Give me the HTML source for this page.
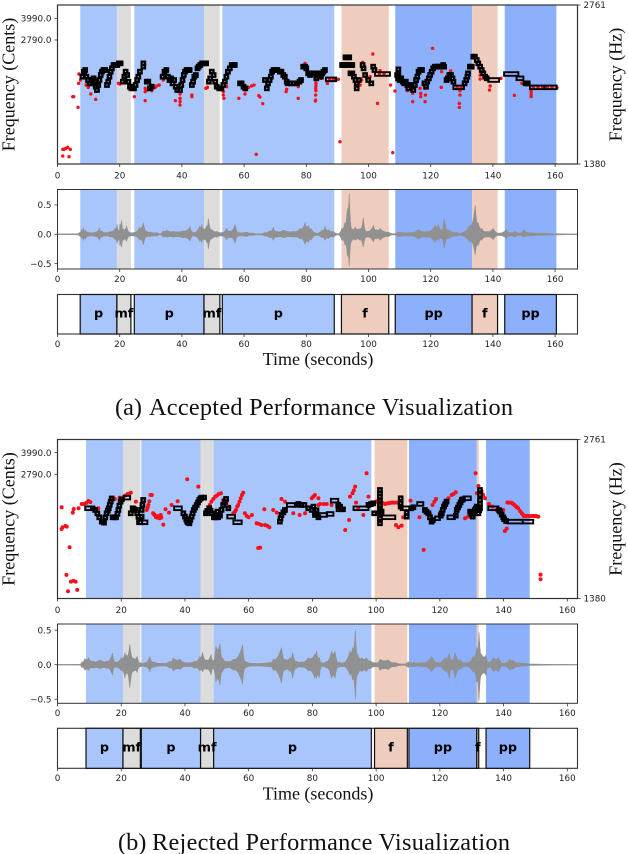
<!DOCTYPE html>
<html lang="en">
<head>
<meta charset="utf-8">
<title>Performance Visualization</title>
<style>
html,body{margin:0;padding:0;background:#fff;width:628px;height:854px;overflow:hidden}
svg{display:block}
.tick{font-family:"DejaVu Sans",sans-serif;font-size:8.8px;fill:#222}
.serif{font-family:"Liberation Serif",serif;fill:#111}
.dyn{font-family:"DejaVu Sans",sans-serif;font-weight:bold;font-size:12.8px;fill:#000;text-anchor:middle}
</style>
</head>
<body>
<svg id="figure" xmlns="http://www.w3.org/2000/svg" width="628" height="854" viewBox="0 0 628 854">
<rect width="628" height="854" fill="#fff"/>
<text class="serif" x="115" y="415" font-size="24.3">(a)</text>
<text class="serif" x="149" y="415" font-size="24.3" textLength="364" lengthAdjust="spacing">Accepted Performance Visualization</text>
<text class="serif" x="118" y="850" font-size="24.3">(b)</text>
<text class="serif" x="152" y="850" font-size="24.3" textLength="358" lengthAdjust="spacing">Rejected Performance Visualization</text>
</svg>
<script>
var xTicks = [0,20,40,60,80,100,120,140,160];
var centTicks = [3990,2790];
var centTickLabels = ['3990.0','2790.0'];
var hzTickLabels = ['2761','1380'];
var waveTicks = [0.5,0,-0.5];
var waveTickLabels = ['0.5','0.0','\u22120.5'];

var segmentsA = [[7.3,19.1,'p'],[19.1,23.6,'mf'],[24.7,47.1,'p'],[47.1,52.2,'mf'],[53,89,'p'],[91.3,106.5,'f'],[108.6,133.3,'pp'],[133.3,141.5,'f'],[143.8,160.4,'pp']];
var segmentsB = [[8.95,20.55,'p'],[20.55,26,'mf'],[26.3,44.9,'p'],[44.9,49,'mf'],[49,98.5,'p'],[99.5,109.8,'f'],[110.3,131.6,'pp'],[131.6,132.2,'f'],[134.5,148.2,'pp']];

var shortNotesA = [[8,758],[8.5,1035],[8.9,1127],[9.3,758],[9.8,573],[10.3,389],[10.8,573],[11.2,389],[11.6,666],[12,481],[12.3,204],[12.7,19],[13.1,296],[13.5,573],[13.9,850],[14.3,1035],[14.8,1127],[15.3,1127],[15.9,296],[16.3,481],[16.7,758],[17.1,1035],[17.5,1220],[18,1404],[18.5,1404],[19.2,1404],[19.7,1497],[20.3,1497],[21,481],[21.5,758],[21.9,1035],[22.4,850],[22.8,481],[23.3,204],[24,111],[24.6,111],[25.1,296],[25.6,573],[26,758],[26.5,1035],[27.6,1497],[27.6,1312],[28.7,481],[29.2,481],[29.7,111],[30.3,204],[33.8,758],[34.4,1035],[35,1127],[35.5,758],[36,573],[36.5,666],[37,389],[37.5,573],[38,204],[38.5,19],[39.4,19],[39.8,296],[40.2,573],[40.6,850],[41,1035],[41.5,1127],[42,1127],[42.5,1127],[43.2,296],[43.6,481],[44,758],[44.5,850],[45,1220],[45.4,1312],[45.9,1404],[46.5,1497],[47.2,1497],[47.8,1497],[48.7,481],[49.1,666],[49.6,1035],[50.2,850],[50.7,481],[51.2,204],[52,111],[52.7,111],[53.3,296],[53.8,481],[54.3,758],[54.8,1035],[55.4,1220],[56,1404],[56.6,1404],[57,1404],[58.7,389],[59.2,389],[59.8,204],[60.4,111],[66.7,573],[67.3,111],[67.7,389],[68.2,573],[68.6,758],[69,1035],[69.5,1127],[70.2,1127],[70.7,1127],[71.5,1035],[72,1035],[72.6,850],[73.1,758],[73.7,481],[74,389],[75,389],[76,389],[77,389],[77.8,481],[78.3,573],[79,1312],[79.6,1312],[80,1220],[80.6,943],[81.2,850],[81.8,943],[82.3,943],[83.2,666],[83.7,943],[84.2,850],[84.7,758],[85.1,943],[85.5,1035],[86,1127],[91.5,1404],[92.2,1404],[92.6,1830],[93,1404],[93.2,1830],[93.8,1830],[93.9,1404],[94.7,1404],[94.2,943],[94.8,943],[95.3,758],[95.8,573],[96.2,389],[96.2,111],[96.9,573],[98.1,1404],[98.4,1220],[98.9,850],[99.9,573],[100.9,389],[101.5,1312],[101.9,1127],[109.6,1164],[109.6,850],[109.2,850],[109.5,666],[110,573],[110.5,666],[111,481],[111.5,389],[112,481],[112.5,296],[112.8,111],[113.3,296],[113.7,296],[114.4,19],[114.9,296],[115.3,573],[115.7,758],[116.1,1035],[116.6,1127],[117.2,1127],[118,389],[118.5,204],[118.9,481],[119.4,666],[119.8,850],[120.3,1035],[120.8,1220],[121.3,1312],[122,1312],[122.6,1312],[123.3,1312],[124,1404],[124.3,1312],[125.1,573],[125.5,666],[126,850],[126.5,850],[127,666],[127.3,481],[130.9,389],[131.4,573],[131.8,758],[132,943],[132.6,1312],[133.2,1312],[133.7,1866],[134.2,1866],[134.8,1681],[135.3,1497],[135.9,1312],[136.4,1127],[136.9,943],[137.5,758],[138,666],[150.5,389],[151.2,389]];
var longNotesA = [[86.3,89.6,610],[91.1,95.4,1404],[92.5,94.3,1830],[102.1,106.9,906],[127.3,130.7,167],[138.5,142,573],[143.6,148.2,906],[147.6,149.8,666],[151.9,156.6,167],[156.6,160.5,167]];
var redA = [[1.7,-3268],[2.1,-3268],[2.7,-3213],[3.3,-3158],[4.1,-3268],[1.7,-3638],[3.7,-3675],[4.9,-350],[5.2,-350],[6.6,-941],[6.8,389],[6.9,906],[7.4,573],[10.7,-202],[12.3,-498],[9.2,296],[9.9,167],[19.6,389],[20.1,352],[22.2,481],[23.1,56],[24.7,-350],[28.2,111],[28.2,-73],[28.2,-572],[28.7,19],[30.3,-18],[31.4,167],[31.9,241],[32.7,296],[34,573],[37.9,-572],[39.4,-202],[39.4,-443],[39.4,-627],[39.4,-812],[43.2,-258],[43.2,-350],[47.7,111],[48.2,167],[53.3,-73],[53.3,-258],[53.5,-443],[54.4,204],[58.3,-443],[60.3,-202],[60.5,19],[61.4,167],[62.4,241],[63.2,296],[63.9,-3545],[64.7,-295],[65.1,-369],[66,-738],[73.5,-73],[73.7,56],[77.4,-443],[77.4,204],[79.6,1497],[83,111],[83,-258],[83,-535],[83,721],[83.1,389],[83.1,573],[83.1,241],[83.1,-18],[82.9,-590],[84.7,666],[86.8,389],[90.3,610],[90.8,-2844],[98.1,1552],[97.8,573],[97.3,296],[96.7,389],[101.4,2014],[98.6,1312],[100.5,758],[99.4,666],[102.9,-720],[103.7,1090],[107.1,296],[107.8,-3453],[108.5,-36],[112.5,-18],[114.2,-627],[114.2,-166],[116.6,111],[116.8,-166],[116.8,-350],[118.2,111],[118.3,-258],[118.2,-627],[120.6,2328],[123.4,167],[123.5,1035],[126.4,1072],[129.4,-18],[129.4,-258],[129.2,-720],[129.2,-941],[135.9,850],[135.9,628],[139.1,241],[138.9,19],[142.6,666],[146.9,-276],[149.3,389],[152.3,-73],[152.3,-221],[152.3,-350],[160.6,148],[153,167],[154.5,167],[156,167],[157.5,167],[159,167],[103.5,906],[105,906],[128.5,167],[129.8,167],[92.5,1404],[94.5,1404],[87.5,610],[88.8,610]];
var waveA = [[0,.006,.006],[6.5,.008,.008],[7,.03,.03],[7.8,.08,.07],[8.3,.11,.1],[9,.07,.08],[9.8,.04,.04],[10.5,.03,.03],[12,.04,.04],[13.5,.1,.1],[14.2,.06,.05],[15.5,.03,.03],[17,.05,.05],[18.5,.1,.09],[19.2,.17,.16],[19.7,.06,.1],[20.1,.18,.2],[20.6,.24,.22],[21.2,.09,.1],[22.2,.14,.12],[23.3,.03,.03],[24.4,.03,.03],[26.5,.12,.1],[27.6,.2,.18],[28.7,.05,.05],[29.7,.04,.04],[32,.03,.03],[33,.01,.01],[34,.06,.05],[35.1,.07,.05],[37.2,.05,.05],[40.5,.06,.06],[42.6,.13,.11],[43.7,.03,.03],[45.8,.14,.12],[46.4,.17,.15],[46.9,.1,.1],[48,.15,.14],[48.5,.27,.25],[49.6,.08,.08],[51.2,.05,.05],[52.8,.03,.03],[54.4,.1,.09],[55.5,.06,.06],[57.1,.17,.15],[58.2,.03,.03],[60.8,.04,.04],[62.5,.02,.02],[65,.01,.01],[66.7,.03,.03],[68.3,.06,.06],[69.4,.12,.1],[70.5,.05,.05],[72.6,.07,.06],[75.8,.05,.05],[78,.1,.08],[79.6,.2,.17],[80.7,.15,.14],[81.5,.1,.1],[83.3,.02,.02],[85,.07,.06],[86,.13,.1],[87.1,.08,.07],[88.7,.05,.05],[90.3,.01,.01],[91.4,.1,.1],[92.4,.2,.18],[93.2,.45,.38],[93.8,.7,.55],[94.6,.1,.12],[95.7,.12,.1],[97.3,.1,.1],[98.3,.28,.22],[99.4,.05,.05],[101.6,.15,.13],[102.6,.08,.08],[103.7,.1,.1],[106.4,.04,.04],[108,.01,.01],[109.6,.04,.04],[113.4,.03,.03],[116,.08,.08],[118.7,.05,.05],[121.4,.15,.14],[122.5,.17,.1],[123.5,.08,.08],[124.3,.27,.24],[125.6,.08,.08],[128.4,.03,.03],[129.4,.02,.02],[132.6,.15,.13],[134.3,.5,.35],[135.3,.2,.2],[136.4,.1,.1],[138,.05,.05],[140.1,.1,.09],[141.8,.02,.02],[144.4,.08,.07],[145.5,.03,.03],[147.1,.05,.05],[148.7,.02,.02],[149.8,.08,.05],[152,.03,.03],[156,.02,.02],[160.5,.01,.01],[167,.005,.005]];

var shortNotesB = [[11.8,815],[12.5,630],[13.1,408],[13.9,168],[14.6,113],[15,400],[15.4,630],[15.8,780],[16.1,907],[16.4,1100],[16.7,1276],[17,1450],[17.3,408],[17.9,408],[18.4,408],[18.8,600],[19.1,815],[19.4,1050],[19.8,1276],[20.2,1400],[23,630],[23.6,907],[24,860],[24.6,815],[25,630],[25.4,445],[26,131],[26.4,445],[26.4,815],[26.65,1092],[26.9,1368],[39.5,630],[40,445],[40.4,300],[40.7,168],[41,120],[41.4,76],[41.7,260],[42.1,445],[42.4,630],[42.8,815],[43.2,950],[43.7,1092],[44.1,1230],[44.5,1368],[44.9,1450],[45.2,1497],[46,1497],[46.6,630],[47,760],[47.6,907],[48,780],[48.4,630],[49.1,408],[49.6,408],[50.2,408],[50.2,723],[51,500],[51.5,815],[52,1100],[52.5,1250],[52.9,1424],[53.6,907],[69.8,168],[70,350],[70.3,538],[70.9,680],[71.4,815],[75.6,1147],[76.5,1092],[77.5,1092],[78.7,907],[79.8,815],[80.8,538],[81.9,408],[80.3,999],[80.8,630],[81.3,800],[99.1,1184],[97.6,1092],[98.4,1140],[99.4,630],[101.2,1922],[101.2,1740],[101.2,1553],[101.2,1320],[101.2,1092],[101.2,860],[101.2,630],[101.2,350],[101.2,76],[101.7,723],[107.7,1461],[107.7,1184],[107.7,1000],[109.6,445],[109.6,680],[111,907],[111.7,962],[115.3,815],[115.8,720],[116.4,630],[116.9,408],[117.4,168],[117.8,250],[120.3,500],[120.6,630],[120.9,820],[121.3,999],[121.7,1140],[122.1,1276],[125,500],[125.3,815],[125.7,950],[126.1,1092],[126.5,1230],[126.9,1368],[127.2,1400],[129.5,723],[129.9,600],[130.3,445],[130.6,630],[131,815],[131.3,900],[131.6,999],[132.1,630],[132.35,800],[132.6,1922],[132.6,1650],[132.6,1368],[132.6,1150],[132.6,907],[138.6,800],[138.9,723],[139.4,560],[139.9,408],[140.2,300],[140.8,200],[88.1,1092],[88.7,1000],[89.2,851]];
var longNotesB = [[8.7,10.7,907],[10.5,11.6,907],[20.7,22.8,1497],[25,28.2,131],[36.6,39,907],[49.1,51,408],[53.3,55.7,445],[55.2,57.8,131],[72,74.5,1092],[74.5,77,1092],[82,84.6,538],[84.5,86.6,593],[85.8,88.1,1331],[87.6,90.2,851],[92.9,97.6,907],[101.7,106,408],[107.7,111.2,907],[112.9,114.8,1147],[118.5,120,353],[122.4,124.7,408],[127.4,129.7,1461],[135.2,138.4,907],[141.3,146,168],[146,149.3,168]];
var redB = [[1.3,962],[1.3,-238],[1.6,-145],[2.5,-71],[2.9,-108],[4.8,667],[5.1,870],[6.6,907],[3.8,-1253],[2.8,-2785],[4.2,-3154],[5,-3117],[5.7,-3154],[3.3,-3690],[6.2,-3616],[7.6,1147],[8.3,1147],[9,1200],[9.7,1313],[10.3,1250],[12.8,907],[17,1368],[18,1424],[19.5,1500],[21.2,1608],[22,1700],[22.5,1700],[23,1775],[24.6,1276],[24.3,815],[28,815],[28.3,950],[28.5,1092],[28.8,1300],[29.2,1645],[29.6,1645],[30,630],[30.3,580],[30.5,538],[30.9,420],[31.1,408],[31.4,380],[31.6,482],[32.1,353],[32.4,538],[32.6,390],[33.2,2],[33.9,851],[35,667],[35.8,1092],[37.7,1295],[40.7,2513],[44.2,2107],[47.8,1092],[48.3,1276],[48.9,1424],[49.5,1553],[50,1608],[50.6,1700],[51.3,1738],[52,1368],[53,1184],[53.9,999],[55.2,630],[55.7,722],[56,815],[56.4,999],[56.7,1092],[57.1,1276],[57.5,1461],[57.9,1645],[58.3,1775],[58.8,630],[59.4,482],[60,408],[61,538],[62.5,76],[63,-1290],[63.6,-1271],[63.2,40],[64,-16],[65.1,-16],[65.8,-60],[66.5,-145],[64.9,851],[67.7,815],[68.8,667],[70.3,1424],[71.4,1276],[74,630],[76,538],[77.7,630],[79.8,1461],[80.3,1553],[80.8,1645],[81.9,1092],[81.9,1461],[82.4,1147],[83.5,1147],[84.5,1147],[86,1092],[88.1,851],[89.7,815],[90.3,-293],[91.5,261],[91.8,1553],[92.6,1738],[93,1900],[93.4,2107],[93.7,1221],[94.4,907],[96,538],[97,2845],[97.6,1553],[98.6,1092],[99.7,1240],[100.2,1290],[100.7,1331],[101.3,1200],[101.8,1221],[102.3,1180],[102.8,1147],[103.3,1170],[103.8,1184],[104.3,1200],[104.9,1221],[105.3,1221],[105.6,1221],[106.4,1221],[106.2,-16],[107,-145],[108,-53],[108.5,408],[110.8,1331],[113.6,408],[114.9,-1400],[116.9,630],[117.7,1092],[118.3,1276],[118.8,1424],[120,630],[121.1,1092],[122.7,1461],[123.7,1645],[124.3,1700],[125,1793],[127.9,353],[128.9,445],[131.2,2845],[131.6,1738],[132.1,2144],[133.1,1830],[133.6,1645],[134.2,1461],[135.4,1147],[136.5,999],[137.8,815],[139.9,815],[140.4,-349],[141,-219],[141.2,1230],[141.5,1221],[142.2,1221],[142.7,1190],[143,1147],[143.4,1090],[143.8,1030],[144.2,960],[144.6,907],[145.2,750],[145.7,630],[146,560],[146.4,482],[146.8,482],[147.2,482],[147.8,482],[148.2,482],[148.8,482],[149.3,482],[149.7,470],[150.1,482],[150.5,460],[150.9,445],[151.6,-2767],[151.6,-3025]];
var waveB = [[0,.005,.005],[7,.005,.005],[7.2,.01,.01],[7.6,.04,.04],[8.6,.09,.08],[9.7,.1,.08],[11.2,.05,.05],[13.3,.07,.06],[15.4,.05,.05],[17.3,.17,.15],[18,.04,.04],[20.1,.1,.09],[21.2,.18,.2],[21.7,.14,.13],[22.7,.3,.34],[23.8,.1,.1],[25,.12,.11],[25.9,.03,.03],[27.5,.03,.03],[29,.12,.1],[30,.04,.04],[33.2,.02,.02],[35.3,.05,.05],[36.3,.1,.09],[38.4,.08,.07],[40.5,.03,.03],[43.1,.05,.05],[44.7,.12,.09],[45.5,.18,.1],[46.8,.07,.07],[48.2,.15,.15],[48.9,.06,.06],[49.7,.27,.25],[51,.31,.3],[51.8,.1,.1],[53.1,.05,.05],[55.2,.08,.08],[58.1,.29,.28],[58.9,.05,.05],[61.4,.02,.02],[66.7,.03,.03],[67.7,.08,.08],[70.3,.25,.27],[71.4,.08,.08],[73,.1,.1],[73.8,.18,.2],[75,.05,.05],[76.6,.04,.04],[78.7,.1,.09],[80.8,.16,.2],[81.3,.2,.2],[82.2,.1,.19],[82.9,.03,.03],[84.5,.05,.05],[86,.2,.2],[87.1,.2,.2],[88.1,.04,.04],[89.7,.03,.03],[91.8,.2,.15],[92.6,.25,.22],[93.5,.5,.5],[94.2,.15,.15],[95.5,.1,.1],[97,.1,.1],[98.1,.06,.06],[100.2,.03,.03],[101.2,.08,.08],[103.8,.07,.07],[105.9,.03,.03],[108.5,.01,.01],[110.1,.04,.04],[111.7,.03,.03],[114.8,.03,.03],[117.4,.12,.1],[119.5,.03,.03],[121.6,.1,.1],[123,.17,.2],[123.7,.07,.07],[124.8,.18,.2],[126.3,.07,.07],[128.4,.03,.03],[130.5,.12,.11],[131.6,.25,.25],[132.3,.47,.52],[133.1,.15,.15],[134.5,.14,.16],[135.2,.04,.04],[136.8,.1,.1],[138.4,.1,.1],[139.9,.02,.02],[142,.08,.08],[143,.07,.07],[144.6,.03,.03],[146.7,.02,.02],[149.3,.01,.01],[163.2,.003,.003]];

var bandColors = {p:'#a9c6fc', mf:'#dcdcdc', f:'#eecdbe', pp:'#8db0fc'};
var NS = 'http://www.w3.org/2000/svg';
var fig = document.getElementById('figure');

function mk(tag, attrs, parent, txt){
  var e = document.createElementNS(NS, tag);
  for (var k in attrs) e.setAttribute(k, attrs[k]);
  if (txt !== undefined) e.textContent = txt;
  (parent || fig).appendChild(e);
  return e;
}

function frame(x0, x1, top, bottom, sx, strokeW, group){
  var el = mk('rect', {x:x0, y:top, width:x1-x0, height:bottom-top, fill:'none', stroke:'#333', 'stroke-width':strokeW}, group);
  
  
}

function xAxis(ticks, bottom, labelY, sx, group){
  ticks.forEach(function(t){
    var line = mk('line', {x1:sx(t), x2:sx(t), y1:bottom, y2:bottom+3, stroke:'#333', 'stroke-width':0.8}, group);
    
    
    var lab = mk('text', {x:sx(t), y:labelY, 'text-anchor':'middle', 'class':'tick'}, group, String(t));
    
    
  });
}

function bands(segs, sx, top, bottom, group){
  segs.forEach(function(s){
    var el = mk('rect', {x:sx(s[0]), y:top, width:sx(s[1])-sx(s[0]), height:bottom-top, fill:bandColors[s[2]]}, group);
    
    
  });
}

/* envelope edge: concave curves between peaks give the spiky waveform outline */
function edge(list, idx, sign, sx, wy, start){
  var d = start ? 'M' + sx(list[0][0]).toFixed(1) + ' ' + wy(sign*list[0][idx]).toFixed(1) : 'L' + sx(list[0][0]).toFixed(1) + ' ' + wy(sign*list[0][idx]).toFixed(1);
  for (var i = 1; i < list.length; i++){
    var a = list[i-1], b = list[i];
    var low = Math.min(a[idx], b[idx]) * 0.55;
    var mx = (sx(a[0]) + sx(b[0])) / 2;
    d += 'Q' + mx.toFixed(1) + ' ' + wy(sign*low).toFixed(1) + ' ' + sx(b[0]).toFixed(1) + ' ' + wy(sign*b[idx]).toFixed(1);
  }
  return d;
}

function drawChart(c){
  var x0 = 57.5, x1 = 577.5;
  var sx = function(t){ return x0 + (t / c.xMax) * (x1 - x0); };
  var root = mk('g', {});
  
  

  /* pitch panel */
  var pitch = mk('g', {}, root);
  
  
  var sy = function(v){ return c.pTop + (c.centMax - v) / (c.centMax - c.centMin) * (c.pBottom - c.pTop); };
  bands(c.segs, sx, c.pTop, c.pBottom, pitch);
  c.red.forEach(function(p){
    var el = mk('circle', {cx:sx(p[0]), cy:sy(p[1]), r:c.redR, fill:'#f5101a'}, pitch);
    
    
  });
  c.shortNotes.forEach(function(n){
    var el = mk('rect', {x:sx(n[0])-1.7, y:sy(n[1])-1.7, width:3.4, height:3.4, fill:'none', stroke:'#000', 'stroke-width':2.3}, pitch);
    
    
  });
  c.longNotes.forEach(function(n){
    var el = mk('rect', {x:sx(n[0]), y:sy(n[2])-1.8, width:sx(n[1])-sx(n[0]), height:3.6, fill:'none', stroke:'#000', 'stroke-width':1.9}, pitch);
    
    
  });
  frame(x0, x1, c.pTop, c.pBottom, sx, 1.2, pitch);
  xAxis(xTicks, c.pBottom, c.pBottom + 14.3, sx, pitch);
  centTicks.forEach(function(v, i){
    var line = mk('line', {x1:x0-3, x2:x0, y1:sy(v), y2:sy(v), stroke:'#333', 'stroke-width':0.8}, pitch);
    
    
    var lab = mk('text', {x:x0-6, y:sy(v)+3.2, 'text-anchor':'end', 'class':'tick'}, pitch, centTickLabels[i]);
    
    
  });
  hzTickLabels.forEach(function(l, i){
    var y = i === 0 ? c.pTop : c.pBottom;
    var line = mk('line', {x1:x1, x2:x1+3, y1:y, y2:y, stroke:'#333', 'stroke-width':0.8}, pitch);
    
    
    var lab = mk('text', {x:x1+6, y:y+3.2, 'class':'tick'}, pitch, l);
    
    
  });
  var yc = (c.pTop + c.pBottom) / 2;
  var t1 = mk('text', {x:0, y:0, 'class':'serif', 'font-size':18, 'text-anchor':'middle', transform:'translate(14.5 ' + yc + ') rotate(-90)'}, pitch, 'Frequency (Cents)');
  
  
  var t2 = mk('text', {x:0, y:0, 'class':'serif', 'font-size':18, 'text-anchor':'middle', transform:'translate(621.5 ' + yc + ') rotate(-90)'}, pitch, 'Frequency (Hz)');
  
  

  /* waveform panel */
  var wave = mk('g', {}, root);
  
  
  var wy = function(v){ return c.wZero - v * c.wScale; };
  bands(c.segs, sx, c.wTop, c.wBottom, wave);
  var d = edge(c.wave, 1, 1, sx, wy, true) + edge(c.wave.slice().reverse(), 2, -1, sx, wy, false) + 'Z';
  var poly = mk('path', {d:d, fill:'#919191', stroke:'#919191', 'stroke-width':0.6}, wave);
  
  
  var base = mk('line', {x1:x0, x2:x1, y1:wy(0), y2:wy(0), stroke:'#919191', 'stroke-width':1.2}, wave);
  
  
  frame(x0, x1, c.wTop, c.wBottom, sx, 1, wave);
  xAxis(xTicks, c.wBottom, c.wBottom + 12.8, sx, wave);
  waveTicks.forEach(function(v, i){
    var line = mk('line', {x1:x0-3, x2:x0, y1:wy(v), y2:wy(v), stroke:'#333', 'stroke-width':0.8}, wave);
    
    
    var lab = mk('text', {x:x0-6, y:wy(v)+3.2, 'text-anchor':'end', 'class':'tick'}, wave, waveTickLabels[i]);
    
    
  });

  /* dynamics panel */
  var dyn = mk('g', {}, root);
  
  
  frame(x0, x1, c.dTop, c.dBottom, sx, 1.1, dyn);
  c.segs.forEach(function(s){
    var el = mk('rect', {x:sx(s[0]), y:c.dTop, width:sx(s[1])-sx(s[0]), height:c.dBottom-c.dTop, fill:bandColors[s[2]], stroke:'#111', 'stroke-width':1.2}, dyn);
    
    
  });
  c.segs.forEach(function(s){
    var lab = mk('text', {x:(sx(s[0])+sx(s[1]))/2, y:(c.dTop+c.dBottom)/2+3, 'class':'dyn'}, dyn, s[2]);
    
    
  });
  xAxis(xTicks, c.dBottom, c.dBottom + 12.8, sx, dyn);
  var tt = mk('text', {x:318, y:c.dBottom + 31, 'class':'serif', 'font-size':18, 'text-anchor':'middle'}, dyn, 'Time (seconds)');
  
  
}

drawChart({name:'accepted-performance-chart', xMax:167.2, redR:1.7, segs:segmentsA, red:redA, shortNotes:shortNotesA, longNotes:longNotesA, wave:waveA,
  pTop:5, pBottom:164, centMax:4729, centMin:-4080, wTop:189.5, wBottom:269, wZero:234.3, wScale:58.7, dTop:294.5, dBottom:334});
drawChart({name:'rejected-performance-chart', xMax:163.2, redR:2, segs:segmentsB, red:redB, shortNotes:shortNotesB, longNotes:longNotesB, wave:waveB,
  pTop:439.5, pBottom:598.5, centMax:4718, centMin:-4091, wTop:624, wBottom:703.3, wZero:664.7, wScale:69, dTop:728.3, dBottom:768.3});
</script>
</body>
</html>
